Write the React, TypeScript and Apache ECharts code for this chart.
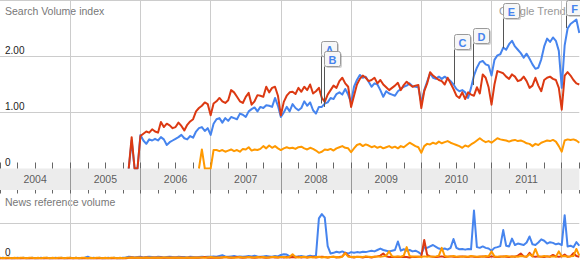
import React, { useEffect, useRef } from 'react';
import * as echarts from 'echarts';

const FONT = 'Arial, "Liberation Sans", Helvetica, sans-serif';

// x axis: fractional years
const X_MIN = 2004;
const X_MAX = 2012.25;
const HALF_MONTH = 1 / 24;
const SEARCH_START = 2005 + 10 / 12; // 1 Nov 2005
const NEWS_START = 2004; // 1 Jan 2004

const yearLabels = ['2004', '2005', '2006', '2007', '2008', '2009', '2010', '2011'];
const searchTickLabels = ['0', '1.00', '2.00'];
const newsTickLabels = ['0'];

// Search volume index, half-monthly from Nov 2005
const searchBlue = [
  0, 0.50, 0, 0, 0.60, 0.50, 0.44, 0.52, 0.50, 0.53, 0.50, 0.56,
  0.52, 0.42, 0.47, 0.50, 0.53, 0.56, 0.60, 0.54, 0.52, 0.58, 0.55, 0.66,
  0.72, 0.74, 0.67, 0.72, 0.60, 0.80, 0.88, 0.90, 0.82, 0.90, 0.85, 0.92,
  0.90, 0.88, 0.98, 0.96, 0.92, 1.02, 1.06, 1.09, 1.02, 1.10, 1.08, 1.13,
  1.12, 1.10, 1.26, 1.12, 0.92, 1.00, 1.10, 1.02, 1.15, 1.08, 1.04, 1.08,
  1.20, 1.12, 1.18, 1.04, 0.98, 1.10, 1.10, 1.16, 1.18, 1.26, 1.24, 1.33,
  1.36, 1.32, 1.42, 1.32, 1.17, 1.46, 1.58, 1.67, 1.62, 1.64, 1.55, 1.46,
  1.52, 1.50, 1.40, 1.28, 1.38, 1.34, 1.32, 1.30, 1.38, 1.42, 1.46, 1.48,
  1.52, 1.47, 1.46, 1.45, 1.17, 1.40, 1.55, 1.70, 1.62, 1.60, 1.64, 1.60,
  1.64, 1.60, 1.56, 1.50, 1.42, 1.38, 1.40, 1.36, 1.26, 1.44, 1.66, 1.80,
  1.90, 1.92, 1.86, 1.84, 1.66, 1.94, 2.02, 2.04, 2.16, 2.12, 2.22, 2.28,
  2.18, 2.12, 2.06, 1.98, 2.05, 1.96, 1.86, 1.78, 1.80, 1.95, 2.18, 2.32,
  2.26, 2.34, 2.28, 2.10, 1.44, 2.20, 2.50, 2.58, 2.62, 2.66, 2.42,
];
const searchRed = [
  0, 0.56, 0, 0, 0.58, 0.62, 0.66, 0.64, 0.70, 0.66, 0.64, 0.83,
  0.74, 0.80, 0.77, 0.72, 0.74, 0.82, 0.76, 0.68, 0.78, 0.84, 0.88, 1.02,
  1.08, 1.12, 1.18, 1.15, 0.95, 1.16, 1.20, 1.26, 1.20, 1.17, 1.22, 1.40,
  1.36, 1.28, 1.20, 1.17, 1.28, 1.35, 1.14, 1.20, 1.31, 1.30, 1.28, 1.46,
  1.36, 1.44, 1.46, 1.30, 0.95, 1.19, 1.30, 1.36, 1.37, 1.33, 1.44, 1.37,
  1.46, 1.40, 1.50, 1.34, 1.38, 1.44, 1.26, 1.19, 1.32, 1.40, 1.48, 1.44,
  1.56, 1.62, 1.52, 1.46, 1.10, 1.30, 1.50, 1.60, 1.66, 1.62, 1.56, 1.58,
  1.62, 1.52, 1.58, 1.50, 1.45, 1.40, 1.44, 1.48, 1.53, 1.40, 1.49, 1.55,
  1.50, 1.46, 1.48, 1.49, 1.08, 1.38, 1.52, 1.72, 1.66, 1.62, 1.58, 1.56,
  1.50, 1.62, 1.52, 1.42, 1.30, 1.26, 1.36, 1.24, 1.36, 1.32, 1.30, 1.45,
  1.34, 1.68, 1.62, 1.45, 1.14, 1.50, 1.74, 1.72, 1.70, 1.64, 1.60, 1.68,
  1.64, 1.56, 1.58, 1.64, 1.56, 1.44, 1.48, 1.62, 1.48, 1.38, 1.58, 1.62,
  1.64, 1.60, 1.58, 1.44, 1.05, 1.66, 1.72, 1.66, 1.58, 1.52, 1.50,
];
const searchOrange = [
  null, null, null, null, null, null, null, null, null, null, null, null,
  null, null, null, null, null, null, null, null, null, null, null, null,
  0, 0.34, 0, 0, 0, 0.33, 0.33, 0.31, 0.33, 0.30, 0.32, 0.34,
  0.31, 0.33, 0.30, 0.35, 0.34, 0.38, 0.32, 0.34, 0.33, 0.35, 0.40, 0.36,
  0.41, 0.37, 0.40, 0.36, 0.33, 0.36, 0.38, 0.36, 0.37, 0.35, 0.38, 0.39,
  0.36, 0.34, 0.37, 0.35, 0.32, 0.28, 0.30, 0.34, 0.33, 0.35, 0.32, 0.36,
  0.38, 0.40, 0.37, 0.36, 0.29, 0.36, 0.42, 0.44, 0.40, 0.43, 0.41, 0.38,
  0.40, 0.37, 0.39, 0.36, 0.38, 0.40, 0.37, 0.39, 0.36, 0.40, 0.38, 0.42,
  0.46, 0.43, 0.40, 0.38, 0.28, 0.40, 0.44, 0.43, 0.46, 0.44, 0.48, 0.45,
  0.47, 0.49, 0.46, 0.44, 0.42, 0.40, 0.37, 0.41, 0.39, 0.43, 0.46, 0.50,
  0.54, 0.50, 0.47, 0.49, 0.46, 0.50, 0.54, 0.52, 0.51, 0.50, 0.48, 0.50,
  0.51, 0.49, 0.50, 0.48, 0.45, 0.44, 0.40, 0.44, 0.42, 0.46, 0.48, 0.50,
  0.49, 0.51, 0.48, 0.40, 0.30, 0.50, 0.52, 0.51, 0.52, 0.50, 0.46,
];

// News reference volume, half-monthly from Jan 2004
const newsBlue = [
  0.01, 0.02, 0.01, 0.02, 0.01, 0.01, 0.02, 0.01, 0.02, 0.01, 0.01,
  0.02, 0.01, 0.01, 0.02, 0.01, 0.02, 0.01, 0.01, 0.02, 0.01, 0.02,
  0.01, 0.01, 0.02, 0.01, 0.02, 0.01, 0.01, 0.02, 0.05, 0.01, 0.02,
  0.01, 0.02, 0.01, 0.01, 0.02, 0.01, 0.02, 0.01, 0.01, 0.02, 0.03,
  0.05, 0.04, 0.03, 0.04, 0.05, 0.03, 0.04, 0.05, 0.04, 0.03, 0.05, 0.04, 0.03, 0.04,
  0.05, 0.04, 0.03, 0.05, 0.04, 0.04, 0.03, 0.05, 0.04, 0.03, 0.04, 0.05, 0.04, 0.05,
  0.05, 0.06, 0.05, 0.07, 0.09, 0.06, 0.05, 0.06, 0.07, 0.05, 0.06, 0.05, 0.06, 0.07,
  0.06, 0.08, 0.06, 0.05, 0.06, 0.07, 0.06, 0.05, 0.07, 0.06, 0.10, 0.12, 0.11,
  0.06, 0.07, 0.05, 0.06, 0.07, 0.05, 0.06, 0.08, 0.06, 0.08, 1.13, 1.25,
  1.15, 0.35, 0.14, 0.16, 0.19, 0.17, 0.20, 0.16, 0.14, 0.18, 0.16, 0.18,
  0.17, 0.19, 0.18, 0.20, 0.22, 0.20, 0.24, 0.28, 0.24, 0.22, 0.20, 0.22,
  0.24, 0.48, 0.22, 0.26, 0.22, 0.24, 0.20, 0.22, 0.18, 0.12, 0.32, 0.30,
  0.34, 0.38, 0.33, 0.28, 0.26, 0.28, 0.25, 0.30, 0.55, 0.30, 0.26, 0.27,
  0.25, 0.27, 0.26, 1.35, 0.32, 0.30, 0.34, 0.30, 0.28, 0.22, 0.30, 0.32,
  0.35, 0.80, 0.36, 0.34, 0.56, 0.38, 0.42, 0.40, 0.38, 0.45, 0.62, 0.40,
  0.38, 0.45, 0.54, 0.50, 0.42, 0.46, 0.44, 0.40, 0.42, 0.38, 1.22, 0.34,
  0.36, 0.32, 0.46, 0.36,
];
const newsRed = [
  0, 0, 0, 0, 0, 0, 0, 0, 0, 0, 0,
  0, 0, 0, 0, 0, 0, 0, 0, 0, 0, 0,
  0, 0, 0, 0, 0, 0, 0, 0, 0, 0, 0,
  0, 0, 0, 0, 0, 0, 0, 0, 0, 0, 0,
  0.02, 0.03, 0.02, 0.02, 0.03, 0.02, 0.03, 0.02, 0.02, 0.03, 0.02,
  0.03, 0.02, 0.02, 0.03, 0.02, 0.03, 0.02, 0.03, 0.02, 0.02, 0.03,
  0.02, 0.03, 0.02, 0.03, 0.04, 0.02, 0.03, 0.02, 0.03, 0.02, 0.03,
  0.04, 0.03, 0.02, 0.03, 0.04, 0.03, 0.02, 0.03, 0.04, 0.03, 0.02,
  0.03, 0.04, 0.03, 0.02, 0.03, 0.04, 0.03, 0.03, 0.04, 0.03, 0.04,
  0.03, 0.04, 0.03, 0.05, 0.03, 0.04, 0.03, 0.04, 0.05, 0.03, 0.04, 0.05,
  0.04, 0.03, 0.04, 0.05, 0.03, 0.04, 0.06, 0.16, 0.08, 0.04, 0.03, 0.05,
  0.04, 0.03, 0.05, 0.04, 0.03, 0.05, 0.06, 0.08, 0.14, 0.06, 0.04, 0.05,
  0.04, 0.05, 0.04, 0.05, 0.04, 0.03, 0.05, 0.04, 0.05, 0.06, 0.52, 0.10,
  0.06, 0.05, 0.04, 0.05, 0.06, 0.04, 0.05, 0.06, 0.05, 0.04, 0.05, 0.06,
  0.05, 0.04, 0.06, 0.05, 0.04, 0.05, 0.06, 0.05, 0.04, 0.06, 0.05, 0.04,
  0.05, 0.06, 0.05, 0.04, 0.06, 0.05, 0.08, 0.14, 0.06, 0.05, 0.16, 0.06,
  0.05, 0.06, 0.05, 0.04, 0.06, 0.05, 0.10, 0.06, 0.05, 0.06, 0.11, 0.05,
  0.06, 0.15, 0.07, 0.05,
];
const newsOrange = [
  0.02, 0.01, 0.02, 0.02, 0.01, 0.02, 0.01, 0.02, 0.02, 0.01, 0.02,
  0.02, 0.01, 0.02, 0.01, 0.02, 0.02, 0.01, 0.02, 0.01, 0.02, 0.02,
  0.01, 0.02, 0.02, 0.01, 0.02, 0.01, 0.02, 0.02, 0.01, 0.02, 0.01,
  0.02, 0.02, 0.01, 0.02, 0.01, 0.02, 0.02, 0.01, 0.02, 0.01, 0.02,
  0.02, 0.03, 0.02, 0.03, 0.02, 0.02, 0.03, 0.02, 0.03, 0.02, 0.03,
  0.02, 0.03, 0.03, 0.02, 0.03, 0.02, 0.03, 0.02, 0.02, 0.03, 0.02,
  0.03, 0.02, 0.03, 0.03, 0.02, 0.03, 0.04, 0.03, 0.02, 0.03, 0.03,
  0.04, 0.03, 0.03, 0.02, 0.03, 0.04, 0.03, 0.03, 0.04, 0.03, 0.03,
  0.04, 0.03, 0.04, 0.03, 0.03, 0.04, 0.05, 0.03, 0.04, 0.04, 0.03,
  0.05, 0.12, 0.04, 0.03, 0.04, 0.05, 0.03, 0.04, 0.03, 0.04, 0.05, 0.03,
  0.04, 0.03, 0.04, 0.05, 0.04, 0.03, 0.05, 0.15, 0.05, 0.04, 0.05, 0.04,
  0.05, 0.04, 0.06, 0.05, 0.04, 0.05, 0.06, 0.05, 0.06, 0.08, 0.20, 0.06,
  0.05, 0.06, 0.05, 0.08, 0.32, 0.07, 0.05, 0.06, 0.05, 0.04, 0.06, 0.05,
  0.06, 0.05, 0.06, 0.08, 0.30, 0.07, 0.05, 0.06, 0.07, 0.05, 0.06, 0.05,
  0.06, 0.05, 0.07, 0.06, 0.05, 0.06, 0.05, 0.07, 0.06, 0.20, 0.06, 0.05,
  0.06, 0.05, 0.07, 0.06, 0.05, 0.06, 0.05, 0.07, 0.06, 0.05, 0.12, 0.06,
  0.27, 0.06, 0.05, 0.07, 0.06, 0.05, 0.06, 0.05, 0.20, 0.06, 0.07, 0.05,
  0.06, 0.07, 0.27, 0.08,
];

// News flags
const flagLetters = ['A', 'B', 'C', 'D', 'E', 'F'];
const flagDates = [2008.574, 2008.62, 2010.459, 2010.739, 2011.165, 2012.057];
const flagBase = [1.16, 1.10, 1.50, 1.49, 2.15, 2.51];
const flagTop = [2.28, 2.09, 2.41, 2.51, 2.96, 3.01];

const BLUE = '#4684ee';
const RED = '#dc3912';
const ORANGE = '#ff9900';

const toPoints = (start: number, values: (number | null)[]) =>
  values.map((v, i) => [start + i * HALF_MONTH, v]);

const GRID_LEFT = -1;
const GRID_WIDTH = 580.3;

function buildOption(): any {
  const lineBase = (name: string, color: string, data: any[], xi: number, yi: number) => ({
    name,
    type: 'line',
    xAxisIndex: xi,
    yAxisIndex: yi,
    data,
    symbol: 'none',
    showSymbol: false,
    connectNulls: false,
    lineStyle: { color, width: 2, join: 'round' },
    itemStyle: { color },
    z: 3,
  });

  const xBase = {
    type: 'value',
    min: X_MIN,
    max: X_MAX,
    axisLine: { show: false },
    axisLabel: { show: false },
    axisTick: { show: false },
    splitLine: { show: false },
  };

  return {
    animation: false,
    backgroundColor: '#ffffff',
    textStyle: { fontFamily: FONT },
    grid: [
      { left: GRID_LEFT, top: 0, width: GRID_WIDTH, height: 168.5 },
      { left: GRID_LEFT, top: 168.5, width: GRID_WIDTH, height: 21.5, show: true, backgroundColor: '#ececec', borderWidth: 0 },
      { left: GRID_LEFT, top: 190, width: GRID_WIDTH, height: 68.5 },
    ],
    xAxis: [
      { ...xBase, gridIndex: 0, position: 'top', interval: 1,
        splitLine: { show: true, showMinLine: false, showMaxLine: false, lineStyle: { color: '#cccccc', width: 1 } } },
      { ...xBase, gridIndex: 0, position: 'bottom', interval: 0.25,
        axisTick: { show: true, inside: true, length: 6, lineStyle: { color: '#666666', width: 1 } } },
      { ...xBase, gridIndex: 1, position: 'bottom', interval: 1,
        splitLine: { show: true, showMinLine: false, showMaxLine: false, lineStyle: { color: '#999999', width: 1 } } },
      { ...xBase, gridIndex: 2, position: 'bottom', interval: 1,
        splitLine: { show: true, showMinLine: false, showMaxLine: false, lineStyle: { color: '#cccccc', width: 1 } } },
      { ...xBase, gridIndex: 2, position: 'top', interval: 0.25,
        axisTick: { show: true, inside: true, length: 3.5, lineStyle: { color: '#666666', width: 1 } } },
    ],
    yAxis: [
      {
        type: 'value', gridIndex: 0, min: 0, max: 168.5 / 56, interval: 1,
        axisLine: { show: false }, axisTick: { show: false },
        splitLine: { show: true, showMinLine: false, showMaxLine: false, lineStyle: { color: '#cccccc', width: 1 } },
        axisLabel: {
          inside: true, margin: 5, showMaxLabel: false, verticalAlign: 'bottom',
          color: '#222222', fontSize: 10, fontFamily: FONT, padding: [0, 0, 1, 0],
          formatter: (v: number) => searchTickLabels[Math.round(v)] ?? '',
        },
      },
      { type: 'value', gridIndex: 1, min: 0, max: 1, show: false },
      {
        type: 'value', gridIndex: 2, min: 0, max: 68.5 / 35.5, interval: 1,
        axisLine: { show: false }, axisTick: { show: false },
        splitLine: { show: true, showMinLine: false, showMaxLine: false, lineStyle: { color: '#cccccc', width: 1 } },
        axisLabel: {
          inside: true, margin: 5, showMaxLabel: false, verticalAlign: 'bottom',
          color: '#222222', fontSize: 10, fontFamily: FONT, padding: [0, 0, 1, 0],
          formatter: (v: number) => newsTickLabels[Math.round(v)] ?? '',
        },
      },
    ],
    graphic: [
      { type: 'text', left: 5, top: 5, z: 0, style: { text: 'Search Volume index', fill: '#777777', font: `10.5px ${FONT}` } },
      { type: 'text', left: 5, top: 196, z: 0, style: { text: 'News reference volume', fill: '#777777', font: `10.5px ${FONT}` } },
      { type: 'text', left: 499, top: 5, z: 0, style: { text: 'Google Trends', fill: '#999999', font: `11px ${FONT}` } },
    ],
    series: [
      lineBase('blue', BLUE, toPoints(SEARCH_START, searchBlue), 0, 0),
      lineBase('red', RED, toPoints(SEARCH_START, searchRed), 0, 0),
      lineBase('orange', ORANGE, toPoints(SEARCH_START, searchOrange), 0, 0),
      lineBase('newsBlue', BLUE, toPoints(NEWS_START, newsBlue), 3, 2),
      lineBase('newsRed', RED, toPoints(NEWS_START, newsRed), 3, 2),
      lineBase('newsOrange', ORANGE, toPoints(NEWS_START, newsOrange), 3, 2),
      {
        name: 'years',
        type: 'scatter',
        xAxisIndex: 2,
        yAxisIndex: 1,
        symbol: 'circle',
        symbolSize: 1,
        itemStyle: { color: 'rgba(0,0,0,0)' },
        data: yearLabels.map((y) => ({ name: y, value: [Number(y) + 0.5, 0.5] })),
        label: {
          show: true, position: 'inside', formatter: (p: any) => p.name,
          color: '#333333', fontSize: 10.5, fontFamily: FONT,
        },
        z: 5,
      },
      {
        name: 'flags',
        type: 'custom',
        xAxisIndex: 0,
        yAxisIndex: 0,
        clip: false,
        z: 10,
        encode: { x: 0, y: 1 },
        data: flagDates.map((d, i) => [d, flagBase[i], flagTop[i]]),
        renderItem: (params: any, api: any) => {
          const pb = api.coord([api.value(0), api.value(1)]);
          const pt = api.coord([api.value(0), api.value(2)]);
          const bx = Math.round(pb[0]) + 0.5;
          const by = Math.round(pt[1]) + 0.5;
          const w = 16;
          const h = 15;
          return {
            type: 'group',
            children: [
              { type: 'line', shape: { x1: bx, y1: by + h, x2: bx, y2: pb[1] }, style: { stroke: '#555555', lineWidth: 1 } },
              { type: 'rect', shape: { x: bx + 1.5, y: by + 1.5, width: w, height: h, r: 2 }, style: { fill: 'rgba(0,0,0,0.18)' } },
              { type: 'rect', shape: { x: bx, y: by, width: w, height: h, r: 2 }, style: { fill: '#f7f7f7', stroke: '#9a9a9a', lineWidth: 1 } },
              {
                type: 'text',
                style: {
                  x: bx + w / 2, y: by + h / 2 + 0.5, text: flagLetters[params.dataIndex],
                  fill: BLUE, font: `bold 11px ${FONT}`, align: 'center', verticalAlign: 'middle',
                },
              },
            ],
          };
        },
      },
    ],
  };
}

export default function App() {
  const ref = useRef<HTMLDivElement>(null);
  useEffect(() => {
    const el = ref.current;
    if (!el) return;
    const chart = echarts.init(el, null, { renderer: 'svg' });
    chart.setOption(buildOption());
    return () => {
      chart.dispose();
    };
  }, []);
  return (
    <div
      ref={ref}
      style={{ position: 'fixed', left: 0, top: 0, width: 580, height: 260, background: '#ffffff' }}
    />
  );
}
